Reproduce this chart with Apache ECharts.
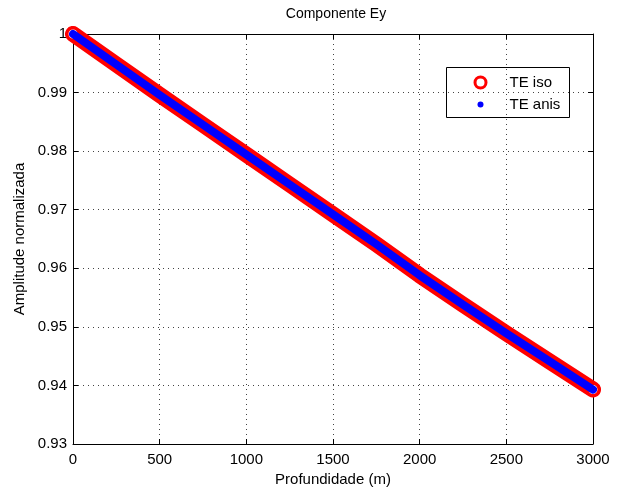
<!DOCTYPE html>
<html>
<head>
<meta charset="utf-8">
<script src="https://cdn.jsdelivr.net/npm/echarts@6/dist/echarts.min.js"></script>
<style>
  html, body { margin: 0; padding: 0; background: #fff; }
  #chart { width: 624px; height: 487px; }
</style>
</head>
<body>
<div id="chart"></div>
<script>
// profundidade (m) e amplitude normalizada
var depth = [0, 250, 500, 750, 1000, 1250, 1500, 1750, 2000, 2250, 2500, 2750, 3000];
var teIso = [1.0000, 0.9948, 0.9896, 0.9845, 0.9794, 0.9743, 0.9692, 0.9641, 0.9588, 0.9538, 0.9489, 0.9441, 0.9393];
var teAnis = [1.0000, 0.9948, 0.9896, 0.9845, 0.9794, 0.9743, 0.9692, 0.9641, 0.9588, 0.9538, 0.9489, 0.9441, 0.9393];
var xTicks = [0, 500, 1000, 1500, 2000, 2500, 3000];
var yTicks = [0.93, 0.94, 0.95, 0.96, 0.97, 0.98, 0.99, 1];

var font = 'Liberation Sans, Arial, Helvetica, sans-serif';

function pares(xs, ys) {
  return xs.map(function (x, i) { return [x, ys[i]]; });
}

// os pontos das pontas levam o anel vermelho
var isoData = pares(depth, teIso).map(function (p, i, arr) {
  if (i === 0 || i === arr.length - 1) {
    return { value: p, symbol: 'circle', symbolSize: 12 };
  }
  return { value: p, symbol: 'none' };
});

var chart = echarts.init(document.getElementById('chart'));

var eixoX = {
  type: 'value',
  min: xTicks[0],
  max: xTicks[xTicks.length - 1],
  interval: 500,
  axisLine: { show: true, onZero: false, lineStyle: { color: '#000', width: 1 } },
  axisTick: { show: true, inside: true, length: 5, lineStyle: { color: '#000' } },
  splitLine: { show: false }
};
var eixoY = {
  type: 'value',
  min: yTicks[0],
  max: yTicks[yTicks.length - 1],
  interval: 0.01,
  axisLine: { show: true, onZero: false, lineStyle: { color: '#000', width: 1 } },
  axisTick: { show: true, inside: true, length: 5, lineStyle: { color: '#000' } },
  splitLine: { show: false }
};

var option = {
  backgroundColor: '#fff',
  animation: false,
  title: {
    text: 'Componente Ey',
    left: 331,
    top: 2,
    textAlign: 'center',
    textStyle: { fontFamily: font, fontSize: 14, fontWeight: 'normal', color: '#000' }
  },
  grid: { left: 73, right: 31, top: 34, bottom: 43, containLabel: false, outerBoundsMode: 'none' },
  xAxis: [
    Object.assign({}, eixoX, {
      position: 'bottom',
      name: 'Profundidade (m)',
      nameLocation: 'middle',
      nameGap: 22,
      nameTextStyle: { fontFamily: font, fontSize: 15, color: '#000' },
      axisLabel: {
        color: '#000', fontFamily: font, fontSize: 15, margin: 8,
        formatter: function (v) { return String(v); }
      },
      splitLine: { show: true, lineStyle: { color: '#444', type: [1, 4], width: 1 } }
    }),
    Object.assign({}, eixoX, { position: 'top', axisLabel: { show: false } })
  ],
  yAxis: [
    Object.assign({}, eixoY, {
      position: 'left',
      name: 'Amplitude normalizada',
      nameLocation: 'middle',
      nameGap: 45,
      nameTextStyle: { fontFamily: font, fontSize: 15, color: '#000' },
      axisLabel: {
        color: '#000', fontFamily: font, fontSize: 15, margin: 6,
        formatter: function (v) { return String(+v.toFixed(2)); }
      },
      splitLine: { show: true, lineStyle: { color: '#444', type: [1, 4], width: 1 } }
    }),
    Object.assign({}, eixoY, { position: 'right', axisLabel: { show: false } })
  ],
  series: [
    {
      name: 'TE iso',
      type: 'line',
      data: isoData,
      clip: false,
      z: 2,
      lineStyle: { color: '#ff0000', width: 16, cap: 'round', join: 'round' },
      itemStyle: { color: '#fff', borderColor: '#ff0000', borderWidth: 3 }
    },
    {
      name: 'TE anis',
      type: 'line',
      data: pares(depth, teAnis),
      clip: false,
      showSymbol: false,
      z: 3,
      lineStyle: { color: '#0000ff', width: 8, cap: 'round', join: 'round' }
    }
  ],
  // legenda desenhada à mão, como no original
  graphic: [
    {
      type: 'group',
      left: 446,
      top: 67,
      children: [
        { type: 'rect', shape: { x: 0, y: 0, width: 123, height: 50 },
          style: { fill: '#fff', stroke: '#000', lineWidth: 1 } },
        { type: 'circle', shape: { cx: 34, cy: 15, r: 5.5 },
          style: { fill: 'none', stroke: '#ff0000', lineWidth: 3 } },
        { type: 'circle', shape: { cx: 34, cy: 37, r: 3 },
          style: { fill: '#0000ff' } },
        { type: 'text', x: 63, y: 15,
          style: { text: 'TE iso', fontFamily: font, fontSize: 15, fill: '#000', verticalAlign: 'middle' } },
        { type: 'text', x: 63, y: 37,
          style: { text: 'TE anis', fontFamily: font, fontSize: 15, fill: '#000', verticalAlign: 'middle' } }
      ]
    }
  ]
};

chart.setOption(option);
</script>
</body>
</html>
